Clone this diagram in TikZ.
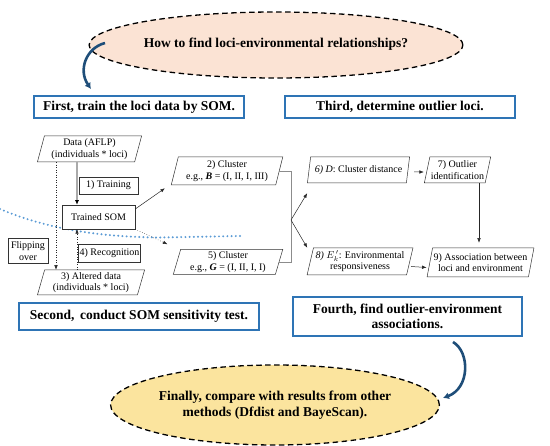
\documentclass[tikz,border=0pt]{standalone}
\usepackage{fontspec}
\setmainfont{Liberation Serif}
\usetikzlibrary{shapes.geometric,arrows.meta,calc}
\definecolor{peach}{HTML}{FBE3D4}
\definecolor{sand}{HTML}{FBE49E}
\definecolor{stepblue}{HTML}{2E74B5}
\definecolor{darkarrow}{HTML}{1F4E79}
\definecolor{dotblue}{HTML}{5B9BD5}
\definecolor{linegray}{HTML}{8C8C8C}
\definecolor{lightgray}{HTML}{AAAAAA}
\tikzset{
  smalltext/.style={font=\fontsize{10}{11.5}\selectfont, align=center},
  para/.style={smalltext, trapezium, trapezium left angle=75, trapezium right angle=105,
    trapezium stretches=true, draw=black!80, line width=0.5pt, fill=white, inner sep=1pt},
  plainbox/.style={smalltext, rectangle, draw=black!80, line width=0.5pt, fill=white, inner sep=1pt},
  stepbox/.style={rectangle, draw=stepblue, line width=1.5pt, fill=white, inner sep=1pt,
    font=\fontsize{13.5}{15.5}\selectfont\bfseries, align=center},
  bubble/.style={ellipse, draw=black, line width=1.3pt, dash pattern=on 5.5pt off 3.5pt,
    font=\fontsize{13.5}{15.5}\selectfont\bfseries, align=center, inner sep=0pt},
  arr/.style={-{Latex[length=4.5pt,width=3.5pt]}, line width=0.5pt, draw=black!85},
  dotarr/.style={arr, dotted},
  bigarr/.style={-{Latex[length=6pt,width=7pt]}, line width=2.6pt, draw=darkarrow},
}
\begin{document}
\begin{tikzpicture}[x=1pt,y=-1pt]
\useasboundingbox (0,0) rectangle (550,446);

% ellipses
\node[bubble, fill=peach, minimum width=316, minimum height=66] (q) at (276,45)
  {\raisebox{5pt}{How to find loci-environmental relationships?}};
\node[bubble, fill=sand, minimum width=316, minimum height=80] (fin) at (275,405)
  {Finally, compare with results from other\\methods (Dfdist and BayeScan).};

% step boxes
\node[stepbox, minimum width=210, minimum height=22] (first) at (139,107) {First, train the loci data by SOM.};
\node[stepbox, minimum width=230, minimum height=22] (third) at (400,107) {Third, determine outlier loci.};
\node[stepbox, minimum width=240, minimum height=27] (second) at (139,316.5) {Second,\, conduct SOM sensitivity test.};
\node[stepbox, minimum width=229, minimum height=39] (fourth) at (407.5,316.5) {Fourth, find outlier-environment\\associations.};

% blue dotted curve
\draw[dotblue, line width=2.2pt, line cap=round, dash pattern=on 0pt off 4.2pt]
  (0,209) .. controls (40,226) and (90,237) .. (160,237.5) -- (240,236);

% flowchart nodes
\node[para, minimum width=105, minimum height=26] (data) at (89.5,149) {Data (AFLP)\\(individuals * loci)};
\node[plainbox, minimum width=59, minimum height=17] (train) at (108.5,185.5) {1) Training};
\node[plainbox, minimum width=73, minimum height=24] (som) at (98.5,217) {Trained SOM};
\node[plainbox, minimum width=40, minimum height=25] (flip) at (28,251) {Flipping\\over};
\node[plainbox, minimum width=59, minimum height=18] (recog) at (109.5,253.5) {4) Recognition};
\node[para, minimum width=108, minimum height=25] (alt) at (91,282.5) {3) Altered data\\(individuals * loci)};

\node[para, minimum width=112, minimum height=28] (c2) at (227,171) {2) Cluster\\e.g., \textbf{\textit{B}} = (I, II, I, III)};
\node[para, minimum width=110, minimum height=25] (c5) at (228,262) {5) Cluster\\e.g., \textbf{\textit{G}} = (I, II, I, I)};

\node[para, minimum width=103, minimum height=26] (c6) at (358.5,170) {\textit{6) D}: Cluster distance};
\node[para, minimum width=59, minimum height=26] (c7) at (457.5,170) {7) Outlier\\identification};
\node[para, minimum width=106, minimum height=27] (c8) at (360,261.5) {\textit{8)} $E_k^{\,\prime}$: Environmental\\responsiveness};
\node[para, minimum width=105, minimum height=29] (c9) at (480.5,262.5) {9) Association between\\loci and environment};

% helper coordinates
\coordinate (xa) at (77,0);
\coordinate (xb) at (56,0);
\coordinate (br) at (291,220);
\coordinate (xc) at (479,0);

% connectors left part
\draw[lightgray, line width=1.6pt, -{Latex[length=4.5pt,width=4pt,color=black]}]
  (xa |- data.south) -- (xa |- som.north);
\draw[dotarr] (xb |- data.south) -- (xb |- alt.north);
\draw[dotarr] (xa |- alt.north) -- (xa |- som.south);
\draw[arr] ($(som.east)+(0,-8)$) -- ($(c2.bottom left corner)+(-6,3)$);
\draw[dotarr] (som.south east) -- ($(c5.top left corner)+(-13,-5)$);

% bracket
\draw[linegray, line width=0.6pt] (c2.east) -- (c2.east -| br) -- (c5.east -| br) -- (c5.east);
\draw[arr] (br) -- ($(c6.bottom left corner)+(0,10)$);
\draw[arr] (br) -- ($(c8.top left corner)+(-6,0)$);

% right part
\draw[arr] ($(c6.east)+(6,2)$) -- ($(c7.west)+(-3,2)$);
\draw[arr] (xc |- c7.south) -- ($(xc |- c9.north)+(0,-5)$);
\draw[arr] ($(c8.east)+(1,5)$) -- ($(c9.west)+(-3,5)$);

% big curved arrows
\coordinate (s1) at (105,43);
\coordinate (e1) at (91,89);
\draw[bigarr] (s1) .. controls (86,48) and (78,70) .. (e1);
\coordinate (s2) at (453,342);
\coordinate (e2) at (443,398);
\draw[bigarr] (s2) .. controls (470,352) and (470,388) .. (e2);
\end{tikzpicture}
\end{document}
